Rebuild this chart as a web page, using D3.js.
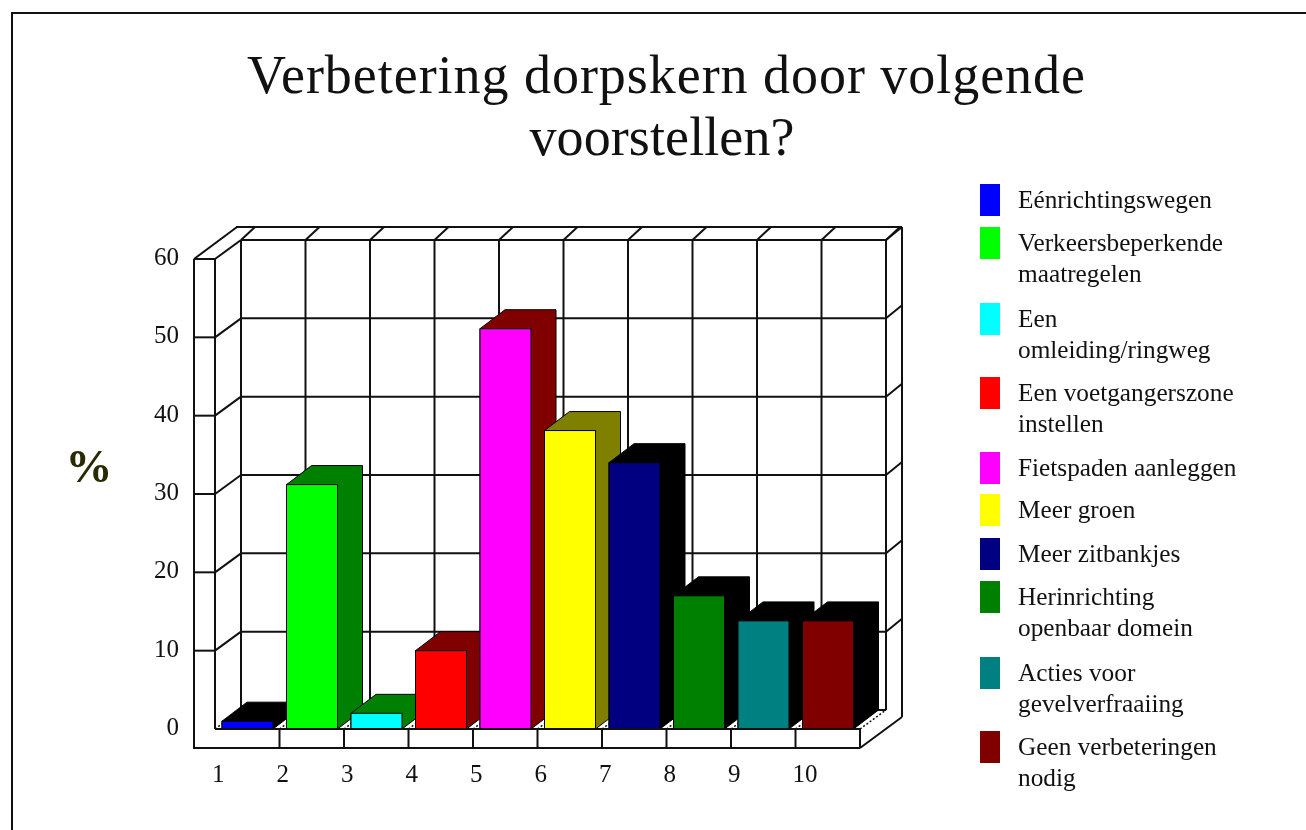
<!DOCTYPE html>
<html><head><meta charset="utf-8">
<script src="https://cdn.jsdelivr.net/npm/d3@7"></script>
<style>html,body{margin:0;padding:0;background:#fff}svg{display:block;filter:blur(0.35px)}text{font-family:"Liberation Serif",serif;fill:#111}</style>
</head><body><svg id="c" width="1306" height="830"></svg>
<script>
const categories=["1","2","3","4","5","6","7","8","9","10"];
const values=[1,31.2,2,10,51.1,38.1,34,17,13.8,13.8];
const frontColors=["#0000ff","#00ff00","#00ffff","#ff0000","#ff00ff","#ffff00","#000080","#008000","#008080","#800000"];
const sideColors=["#000","#008000","#008000","#800000","#800000","#808000","#000","#000","#000","#000"];
const yTicks=[0,10,20,30,40,50,60];
const titleLines=["Verbetering dorpskern door volgende","voorstellen?"];
const titleWidths=[838,265];
const titleX=[666,662];
const legendLabels=[["Eénrichtingswegen"],["Verkeersbeperkende","maatregelen"],["Een","omleiding/ringweg"],["Een voetgangerszone","instellen"],["Fietspaden aanleggen"],["Meer groen"],["Meer zitbankjes"],["Herinrichting","openbaar domein"],["Acties voor","gevelverfraaiing"],["Geen verbeteringen","nodig"]];
const legendY=[201,244,320,394,469,511,555,598,674,748];

const svg=d3.select("#c");
const x=d3.scaleBand().domain(categories).range([215,860]);
const y=d3.scaleLinear().domain([0,60]).range([729,259]);
const dx=26,dy=-19,ox=43,oy=-32;
const ln=(a,b,c,d,w=2,col="#111",dash=null)=>svg.append("line").attr("x1",a).attr("y1",b).attr("x2",c).attr("y2",d).attr("stroke",col).attr("stroke-width",w).attr("stroke-dasharray",dash);

ln(12,13,1306,13);ln(12,12,12,830);
svg.selectAll("text.t").data(titleLines).join("text").attr("class","t").attr("x",(d,i)=>titleX[i]).attr("y",(d,i)=>93+i*62).attr("text-anchor","middle").attr("font-size",54).attr("textLength",(d,i)=>titleWidths[i]).attr("lengthAdjust","spacing").text(d=>d);

const xL=x.range()[0],xR=x.range()[1];
// back wall gridlines
yTicks.forEach(t=>{ln(xL+dx,y(t)+dy,xR+dx,y(t)+dy);if(t>0){ln(xL,y(t),xL+dx,y(t)+dy);ln(xR+dx,y(t)+dy,902,y(t)+dy-13);ln(194,y(t),xL,y(t));}});
categories.concat(["end"]).forEach((c,i)=>{const px=xL+i*x.step();ln(px+dx,y(60)+dy,px+dx,y(0)+dy);ln(px+dx,y(60)+dy,px+dx+14,y(60)+dy-13);});
// outer walls
ln(xL+ox-21,y(60)+oy,194,y(60));ln(xL+ox-22,y(60)+oy,902,y(60)+oy);ln(902,y(60)+oy,902,717);
ln(194,y(60),194,748);ln(xL,y(60),xL,y(0));ln(193,748,xR,748);ln(xR,748,902,717);ln(xR,y(0),xR,748);
ln(xL,y(0),xL+dx,y(0)+dy,1.5,"#111","2,2");ln(xR,y(0),xR+dx,y(0)+dy,1.5,"#111","2,2");
categories.slice(1).forEach(c=>{const px=x(c);ln(px,y(0),px,748);ln(px,y(0),px+dx,y(0)+dy,1.5,"#111","2,2");});

// bars
const bw=51,off=7,ddx=25,ddy=-19;
const bars=svg.append("g").selectAll("g").data(categories).join("g");
bars.append("path").attr("fill",(d,i)=>sideColors[i]).attr("stroke","#000").attr("stroke-width",1)
 .attr("d",(d,i)=>{const a=x(d)+off,b=a+bw,t=y(values[i]),z=y(0);return `M${a},${t}L${a+ddx},${t+ddy}L${b+ddx},${t+ddy}L${b+ddx},${z+ddy}L${b},${z}L${a},${z}Z`;});
bars.append("rect").attr("x",d=>x(d)+off).attr("y",(d,i)=>y(values[i])).attr("width",bw).attr("height",(d,i)=>y(0)-y(values[i])).attr("fill",(d,i)=>frontColors[i]).attr("stroke","#000").attr("stroke-width",1);
ln(xL,y(0),xR,y(0));

// axes text
svg.selectAll("text.y").data(yTicks).join("text").attr("class","y").attr("x",179).attr("y",d=>y(d)+6).attr("text-anchor","end").attr("font-size",25).text(d=>d);
svg.selectAll("text.x").data(categories).join("text").attr("class","x").attr("x",d=>x(d)-3).attr("y",782).attr("font-size",25).text(d=>d);
svg.append("text").attr("x",89).attr("y",482).attr("text-anchor","middle").attr("font-size",47).attr("font-weight","bold").style("fill","#2a2a00").text("%");

// legend
const lg=svg.selectAll("g.l").data(legendLabels).join("g").attr("class","l");
lg.append("rect").attr("x",980).attr("y",(d,i)=>legendY[i]-17).attr("width",20).attr("height",32).attr("fill",(d,i)=>frontColors[i]);
lg.each(function(d,i){d3.select(this).selectAll("text").data(d).join("text").attr("x",1018).attr("y",(s,j)=>legendY[i]+7+j*31).attr("font-size",25.3).text(s=>s);});
</script></body></html>
